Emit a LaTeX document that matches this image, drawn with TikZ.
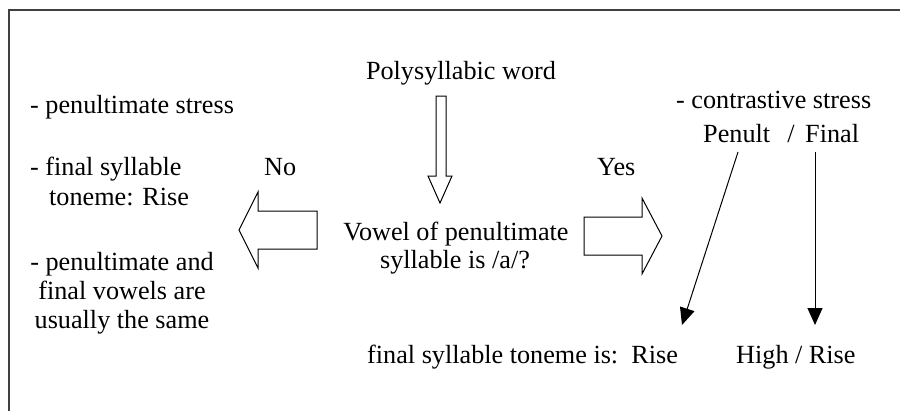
\documentclass[tikz,border=0pt]{standalone}
\usepackage{fontspec}
\setmainfont{Liberation Serif}
\usetikzlibrary{arrows.meta}
\newcommand\reffont{\fontsize{26.2}{30}\selectfont}
\begin{document}
\begin{tikzpicture}[x=1pt,y=-1pt,
  txt/.style={inner sep=0pt, font=\reffont, text=black},
  blockarrow/.style={draw=black, line width=1pt, fill=white, line join=miter},
  thinarrow/.style={draw=black, line width=1pt, -{Triangle[length=17pt,width=15pt]}},
  framestyle/.style={draw=black!75, line width=2pt}]
\useasboundingbox (0,0) rectangle (900,410);
% frame (top and left edges visible)
\draw[framestyle] (8.5,412) -- (8.5,10) -- (902,10);

% left column
\node[txt, anchor=base west] (ps) at (30,113) {- penultimate stress};
\node[txt, anchor=base west] (fs) at (30,175) {- final syllable};
\node[txt, anchor=base west] (tr) at (49,205) {toneme: Rise};
\node[txt, anchor=base] (pa) at (122,270) {- penultimate and};
\node[txt, anchor=base] (fv) at (122,299) {final vowels are};
\node[txt, anchor=base] (us) at (122,328) {usually the same};

% centre
\node[txt, anchor=base] (poly) at (461,79) {Polysyllabic word};
\node[txt, anchor=base west] (no) at (264,175) {No};
\node[txt, anchor=base west] (yes) at (597,175) {Yes};
\node[txt, anchor=base] (vow) at (456,240) {Vowel of penultimate};
\node[txt, anchor=base] (syl) at (455,268) {syllable is /a/?};

% right column
\node[txt, anchor=base west] (cs) at (676,108) {- contrastive stress};
\node[txt, anchor=base west] (pen) at (703,142) {Penult};
\node[txt, anchor=base] (slash) at (791,142) {/};
\node[txt, anchor=base west] (fin) at (805,142) {Final};
\node[txt, anchor=base west] (rise) at (367,363) {final syllable toneme is:\ \ Rise};
\node[txt, anchor=base west] (hr) at (736,363) {High / Rise};

% block arrows
\draw[blockarrow] (436,96) -- (446,96) -- (446,176) -- (452,176) -- (440,203)
  -- (428,176) -- (436,176) -- cycle;
\draw[blockarrow] (317,211) -- (317,249) -- (258,249) -- (258,268) -- (239,230)
  -- (258,192) -- (258,211) -- cycle;
\draw[blockarrow] (584,217) -- (642,217) -- (642,198) -- (662,236) -- (642,274)
  -- (642,255) -- (584,255) -- cycle;

% thin arrows
\coordinate (d1s) at (738,152);
\coordinate (d1e) at (682,325);
\coordinate (d2s) at (815,152);
\coordinate (d2e) at (815,325);
\draw[thinarrow] (d1s) -- (d1e);
\draw[thinarrow] (d2s) -- (d2e);
\end{tikzpicture}
\end{document}
